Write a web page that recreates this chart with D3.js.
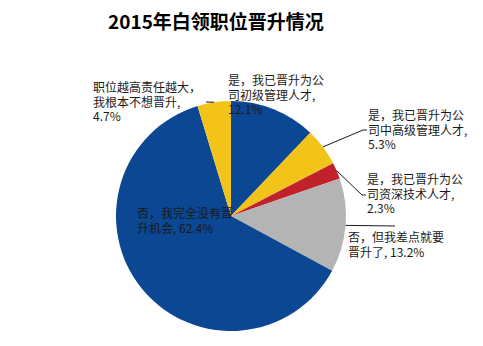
<!DOCTYPE html>
<html>
<head>
<meta charset="utf-8">
<script src="https://cdn.jsdelivr.net/npm/d3@7"></script>
<style>
  html, body { margin: 0; padding: 0; background: #fff; }
  svg { display: block; }
  text { font-family: "Noto Sans CJK SC", "Noto Sans", sans-serif; fill: #1a1a1a; }
</style>
</head>
<body>
<svg id="chart" width="483" height="346"></svg>
<script>
const title = "2015年白领职位晋升情况";
const categories = [
  "是，我已晋升为公司初级管理人才",
  "是，我已晋升为公司中高级管理人才",
  "是，我已晋升为公司资深技术人才",
  "否，但我差点就要晋升了",
  "否，我完全没有晋升机会",
  "职位越高责任越大，我根本不想晋升"
];
const values = [12.1, 5.3, 2.3, 13.2, 62.4, 4.7];
const labelLines = [
  ["是，我已晋升为公", "司初级管理人才,", "12.1%"],
  ["是，我已晋升为公", "司中高级管理人才,", "5.3%"],
  ["是，我已晋升为公", "司资深技术人才,", "2.3%"],
  ["否，但我差点就要", "晋升了, 13.2%"],
  ["否，我完全没有晋", "升机会, 62.4%"],
  ["职位越高责任越大，", "我根本不想晋升,", "4.7%"]
];
const colors = ["#0b4793", "#f2c41a", "#c0212b", "#b4b4b4", "#0b4793", "#f2c41a"];

// layout (positions of labels and leader elbows)
const cx = 231, cy = 216, R = 115;
const labelPos = [
  {x: 228, y: 85},
  {x: 368, y: 120},
  {x: 367, y: 184},
  {x: 348, y: 242},
  {x: 137, y: 218},
  {x: 93,  y: 92}
];
// leader: [elbow point, end point] or null
const leaders = [
  null,
  [[363, 130], [367, 130]],
  [[362, 195], [366, 195]],
  [[395, 226], [395, 226]],
  null,
  [[206, 102], [206, 102]]
];

const svg = d3.select("#chart");

svg.append("text")
  .attr("x", 108).attr("y", 29)
  .attr("font-size", 19).attr("font-weight", "bold")
  .style("fill", "#000")
  .text(title);

const pie = d3.pie().sort(null).value(d => d)(values);
const arc = d3.arc().innerRadius(0).outerRadius(R);

const g = svg.append("g").attr("transform", `translate(${cx},${cy})`);
g.selectAll("path").data(pie).join("path")
  .attr("d", arc)
  .attr("fill", (d, i) => colors[i]);

// leader lines
pie.forEach((d, i) => {
  if (!leaders[i]) return;
  const a = (d.startAngle + d.endAngle) / 2;
  const sx = cx + R * Math.sin(a), sy = cy - R * Math.cos(a);
  const pts = [[sx, sy], leaders[i][0], leaders[i][1]];
  svg.append("path")
    .attr("d", d3.line()(pts))
    .attr("fill", "none")
    .attr("stroke", "#1a1a1a")
    .attr("stroke-width", 1);
});

// labels
labelLines.forEach((lines, i) => {
  const t = svg.append("text")
    .attr("x", labelPos[i].x).attr("y", labelPos[i].y)
    .attr("font-size", 12);
  lines.forEach((ln, j) => {
    t.append("tspan")
      .attr("x", labelPos[i].x)
      .attr("dy", j === 0 ? 0 : 14.5)
      .text(ln);
  });
});
</script>
</body>
</html>
